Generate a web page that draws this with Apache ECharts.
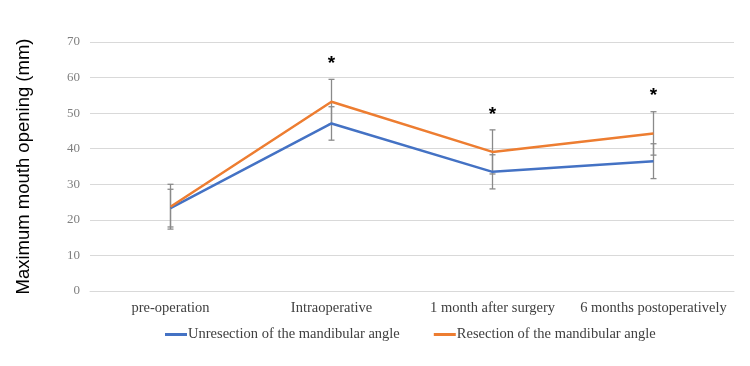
<!DOCTYPE html>
<html>
<head>
<meta charset="utf-8">
<script src="https://cdn.jsdelivr.net/npm/echarts@6/dist/echarts.min.js"></script>
<style>
  html, body { margin: 0; padding: 0; background: #fff; }
  #chart { width: 750px; height: 366px; }
</style>
</head>
<body>
<div id="chart"></div>
<script>
// datos
const categories = ['pre-operation', 'Intraoperative', '1 month after surgery', '6 months postoperatively'];
const unresectionMean = [23.3, 47.1, 33.5, 36.5];
const unresectionSd = [5.3, 4.7, 4.8, 4.9];
const resectionMean = [23.7, 53.2, 39.1, 44.3];
const resectionSd = [6.3, 6.3, 6.2, 6.1];
const stars = ['', '*', '*', '*'];
const yTicks = [0, 10, 20, 30, 40, 50, 60, 70];

const blue = '#4472C4';
const orange = '#ED7D31';
const serif = '"Liberation Serif", "DejaVu Serif", serif';

const chart = echarts.init(document.getElementById('chart'));

// barras de error (media ± DE)
function errorBar(params, api) {
    const x = api.value(0);
    const mean = api.value(1);
    const sd = api.value(2);
    const top = api.coord([x, mean + sd]);
    const bottom = api.coord([x, mean - sd]);
    const half = 3;
    const style = { stroke: '#8a8a8a', lineWidth: 1.3 };
    return {
        type: 'group',
        children: [
            { type: 'line', shape: { x1: top[0], y1: top[1], x2: bottom[0], y2: bottom[1] }, style: style },
            { type: 'line', shape: { x1: top[0] - half, y1: top[1], x2: top[0] + half, y2: top[1] }, style: style },
            { type: 'line', shape: { x1: bottom[0] - half, y1: bottom[1], x2: bottom[0] + half, y2: bottom[1] }, style: style }
        ]
    };
}

function errorData(means, sds) {
    return means.map((m, i) => [i, m, sds[i]]);
}

const option = {
    animation: false,
    grid: { left: 90, right: 16, top: 42, bottom: 75 },
    legend: {
        bottom: 19,
        left: 160,
        itemWidth: 22,
        itemHeight: 3,
        itemGap: 34,
        icon: 'rect',
        textStyle: { fontFamily: serif, fontSize: 14.5, color: '#404040', padding: [0, 0, 0, -4] },
        data: ['Unresection of the mandibular angle', 'Resection of the mandibular angle']
    },
    xAxis: {
        type: 'category',
        data: categories,
        axisLine: { lineStyle: { color: '#d9d9d9' } },
        axisTick: { show: false },
        axisLabel: { interval: 0, fontFamily: serif, fontSize: 14.5, color: '#404040', margin: 10 }
    },
    yAxis: {
        type: 'value',
        min: yTicks[0],
        max: yTicks[yTicks.length - 1],
        interval: 10,
        name: 'Maximum mouth opening (mm)',
        nameLocation: 'middle',
        nameGap: 57,
        nameTextStyle: { fontFamily: '"Liberation Sans", Arial, sans-serif', fontSize: 18.5, color: '#000' },
        axisLine: { show: false },
        axisTick: { show: false },
        splitLine: { lineStyle: { color: '#d9d9d9' } },
        axisLabel: { fontFamily: serif, fontSize: 13, color: '#7f7f7f', margin: 10 }
    },
    series: [
        {
            type: 'custom',
            name: 'err-unres',
            renderItem: errorBar,
            data: errorData(unresectionMean, unresectionSd),
            z: 1,
            silent: true
        },
        {
            type: 'custom',
            name: 'err-res',
            renderItem: errorBar,
            data: errorData(resectionMean, resectionSd),
            z: 1,
            silent: true
        },
        {
            name: 'Unresection of the mandibular angle',
            type: 'line',
            data: unresectionMean,
            showSymbol: false,
            lineStyle: { color: blue, width: 2.5 },
            itemStyle: { color: blue },
            z: 3
        },
        {
            name: 'Resection of the mandibular angle',
            type: 'line',
            data: resectionMean,
            showSymbol: false,
            lineStyle: { color: orange, width: 2.5 },
            itemStyle: { color: orange },
            z: 4
        },
        {
            // asteriscos de significancia sobre la barra de error superior
            type: 'custom',
            name: 'stars',
            silent: true,
            data: resectionMean.map((m, i) => [i, m + resectionSd[i], stars[i]]),
            renderItem: function(params, api) {
                const pt = api.coord([api.value(0), api.value(1)]);
                const txt = stars[params.dataIndex];
                return {
                    type: 'text',
                    style: {
                        text: txt,
                        x: pt[0],
                        y: pt[1] - 6,
                        textAlign: 'center',
                        textVerticalAlign: 'bottom',
                        font: 'bold 19px "Liberation Sans", Arial, sans-serif',
                        fill: '#000'
                    }
                };
            },
            z: 5
        }
    ]
};

chart.setOption(option);
</script>
</body>
</html>
